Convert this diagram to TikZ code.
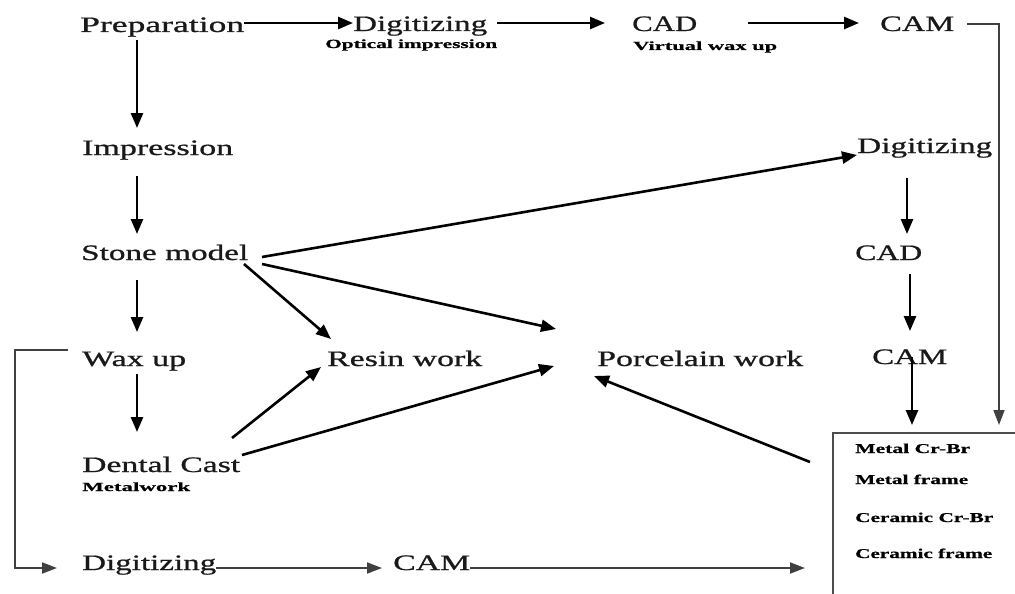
\documentclass[tikz,border=0pt]{standalone}
\usepackage{fontspec}
\setmainfont{Liberation Serif}
\newfontfamily\bigf{Liberation Serif}[FakeBold=0.7]
\newfontfamily\smallf{Liberation Serif Bold}[FakeBold=0.5]
\usepackage{graphicx}
\usetikzlibrary{arrows.meta}
\newcommand\sx[2]{\resizebox{#1pt}{\height}{#2}}
\begin{document}
\begin{tikzpicture}[x=1pt,y=-1pt,
  big/.style={anchor=base west, inner sep=0pt, text=black!90, font=\bigf\fontsize{22}{24}\selectfont},
  small/.style={anchor=base west, inner sep=0pt, font=\smallf\fontsize{12.5}{14}\selectfont},
  boxtxt/.style={anchor=base west, inner sep=0pt, font=\smallf\fontsize{13.5}{15}\selectfont},
  arr/.style={line width=2.6pt, -{Triangle[length=15pt,width=12pt]}},
  thin/.style={line width=1.8pt, draw=black!75, -{Triangle[length=15pt,width=11pt]}},
  plain/.style={line width=1.8pt, draw=black!75}]
\useasboundingbox (0,0) rectangle (1015,594);
\clip (0,0) rectangle (1015,594);
% top row
\node[big] (prep) at (80,32) {\sx{164}{Preparation}};
\node[big] (dig1) at (353,31) {\sx{134}{Digitizing}};
\node[small] (opt) at (325,48) {\sx{172}{Optical impression}};
\node[big] (cad1) at (632,31) {\sx{65}{CAD}};
\node[small] (vwx) at (633,50) {\sx{144}{Virtual wax up}};
\node[big] (cam1) at (880,31) {\sx{74}{CAM}};
% left column
\node[big] (imp) at (82,155) {\sx{151}{Impression}};
\node[big] (stone) at (81,260) {\sx{167}{Stone model}};
\node[big] (wax) at (82,366) {\sx{104}{Wax up}};
\node[big] (dental) at (82,472) {\sx{158}{Dental Cast}};
\node[small] (metal) at (82,491) {\sx{108}{Metalwork}};
\node[big] (dig3) at (82,570) {\sx{134}{Digitizing}};
\node[big] (cam3) at (393,570) {\sx{77}{CAM}};
% middle
\node[big] (resin) at (327,366) {\sx{155}{Resin work}};
\node[big] (porc) at (597,366) {\sx{206}{Porcelain work}};
% right column
\node[big] (dig2) at (857,153) {\sx{135}{Digitizing}};
\node[big] (cad2) at (855,260) {\sx{67}{CAD}};
\node[big] (cam2) at (872,364) {\sx{75}{CAM}};
% box
\draw[line width=1.5pt, draw=black!70] (833,620) -- (833,433) -- (1030,433);
\node[boxtxt] (b1) at (855,453) {\sx{115}{Metal Cr-Br}};
\node[boxtxt] (b2) at (855,484) {\sx{113}{Metal frame}};
\node[boxtxt] (b3) at (855,522) {\sx{138}{Ceramic Cr-Br}};
\node[boxtxt] (b4) at (855,558) {\sx{137}{Ceramic frame}};
\coordinate (boxtopL) at (912,425);
\coordinate (boxtopR) at (999,425);
\coordinate (boxleft) at (805,568);
\coordinate (boxporc) at (810,462);
% top row arrows
\draw[arr] (prep.east |- 0,23) -- (dig1.west |- 0,23);
\draw[arr] (497,23) -- (605,23);
\draw[arr] (748,23) -- (859,23);
\draw[plain, -{Triangle[length=15pt,width=11pt]}] (967,24) -- (999,24) -- (boxtopR);
% left column arrows
\draw[arr] (137,40) -- (137,128);
\draw[arr] (137,176) -- (137,234);
\draw[arr] (137,280) -- (137,332);
\draw[arr] (137,374) -- (137,432);
\draw[thin] (68,350) -- (15,350) -- (15,568) -- (57,568);
\draw[thin] (dig3.east |- 0,568) -- (382,568);
\draw[thin] (cam3.east |- 0,568) -- (boxleft);
% diagonals
\draw[arr] (262,257) -- (857,155);
\draw[arr] (262,264) -- (556,329);
\draw[arr] (244,264) -- (331,339);
\draw[arr] (232,438) -- (321,367);
\draw[arr] (242,455) -- (554,366);
\draw[arr] (boxporc) -- (594,376);
% right column arrows
\draw[arr] (907,178) -- (907,234);
\draw[arr] (910,274) -- (910,331);
\draw[arr] (912,357) -- (boxtopL);
\end{tikzpicture}
\end{document}
